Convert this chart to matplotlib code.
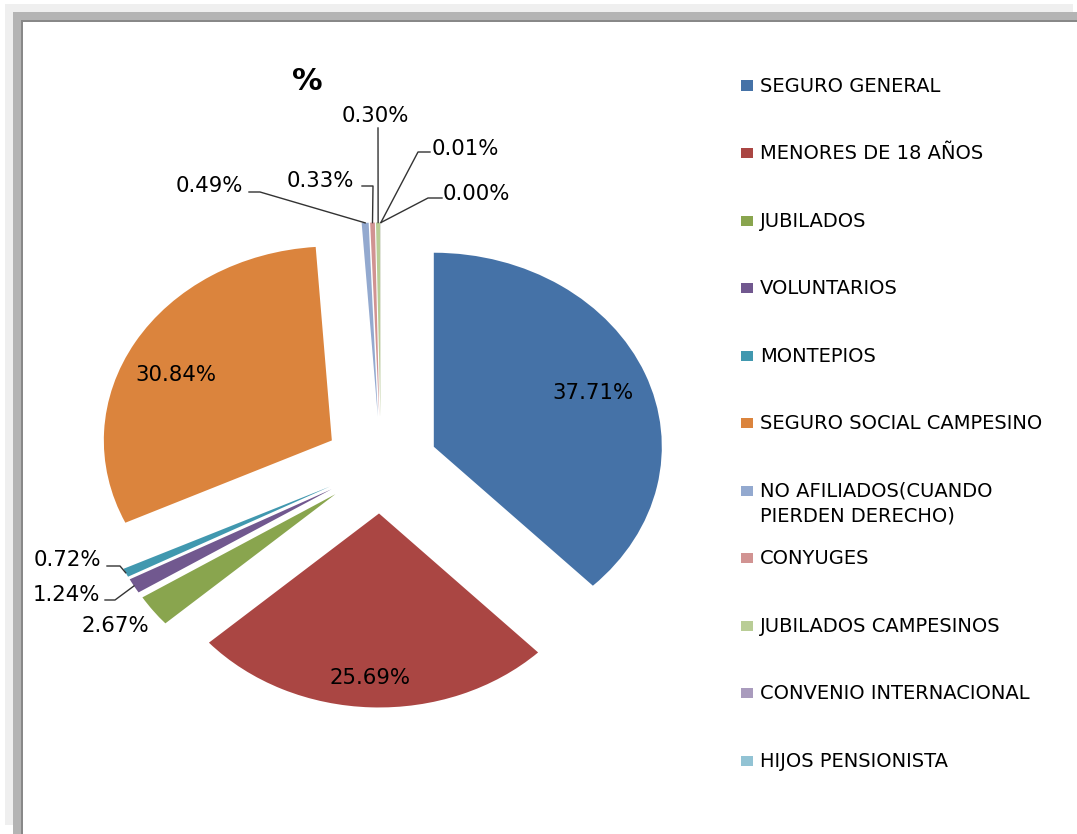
import matplotlib.pyplot as plt
from matplotlib.patches import Rectangle
import numpy as np

W, H = 1077, 834

categories = ['SEGURO GENERAL', 'MENORES DE 18 AÑOS', 'JUBILADOS', 'VOLUNTARIOS',
              'MONTEPIOS', 'SEGURO SOCIAL CAMPESINO',
              'NO AFILIADOS(CUANDO\nPIERDEN DERECHO)', 'CONYUGES',
              'JUBILADOS CAMPESINOS', 'CONVENIO INTERNACIONAL', 'HIJOS PENSIONISTA']
values = [37.71, 25.69, 2.67, 1.24, 0.72, 30.84, 0.49, 0.33, 0.30, 0.01, 0.00]
colors = ['#4572A7', '#AA4643', '#89A54E', '#71588F', '#4198AF', '#DB843D',
          '#93A9CF', '#D19392', '#B9CD96', '#A99BBD', '#92C3D4']

# label placement (pixels): text centre, leader elbow points (none -> no leader)
label_pos = [(593, 393), (370, 678), (115, 626), (66, 595), (67, 560), (176, 375),
             (209, 186), (320, 181), (375, 116), (465, 149), (476, 194)]
leaders = [None, None, None, [(105, 600), (115, 600)], [(107, 566), (120, 566)], None,
           [(249, 192), (260, 192)], [(362, 186), (373, 186)], [(378, 128)],
           [(430, 152), (418, 152)], [(442, 198), (428, 198)]]

# the excel pie is stretched: centre and x/y radius in pixels
CX, CY, RX, RY = 381, 465, 228, 194


def to_data(x, y):
    return (x - CX) / RX, (CY - y) / RY


fig = plt.figure(figsize=(W / 100, H / 100), dpi=100)

# chart-area frame with shadow
for x0, y0, x1, y1, c in [(5, 4, 1073, 825, '#efefef'), (13, 12, W, H, '#b4b4b4'),
                          (21, 20, W, H, '#888888'), (23, 22, W, H, 'white')]:
    fig.add_artist(Rectangle((x0 / W, 1 - y1 / H), (x1 - x0) / W, (y1 - y0) / H,
                             transform=fig.transFigure, color=c, lw=0, zorder=-10))

ax = fig.add_axes([0, 0, 1, 1])
wedges, _ = ax.pie(values, colors=colors, startangle=90, counterclock=False,
                   explode=[0.25] * len(values), wedgeprops=dict(linewidth=0))
ax.set_aspect('auto')
ax.set_xlim(to_data(0, 0)[0], to_data(W, 0)[0])
ax.set_ylim(to_data(0, H)[1], to_data(0, 0)[1])
ax.axis('off')

for w, v, pos, lead in zip(wedges, values, label_pos, leaders):
    tx, ty = to_data(*pos)
    ax.text(tx, ty, '%.2f%%' % v, ha='center', va='center', fontsize=15.3, color='black')
    if lead:
        mid = np.deg2rad((w.theta1 + w.theta2) / 2)
        tip = (w.center[0] + w.r * np.cos(mid), w.center[1] + w.r * np.sin(mid))
        pts = [to_data(*p) for p in lead] + [tip]
        ax.plot([p[0] for p in pts], [p[1] for p in pts], color='#333333', lw=1)

fig.text(307 / W, 1 - 82 / H, '%', fontsize=22, fontweight='bold', ha='center', va='center')

# legend
for i, (cat, c) in enumerate(zip(categories, colors)):
    y = 84.5 + 67.55 * i
    fig.add_artist(Rectangle((741 / W, 1 - (y + 6) / H), 12 / W, 10 / H,
                             transform=fig.transFigure, color=c, lw=0))
    fig.text(760 / W, 1 - (y - 8) / H, cat, fontsize=14, va='top', ha='left',
             linespacing=1.38)

fig.savefig('out.png', dpi=100)
